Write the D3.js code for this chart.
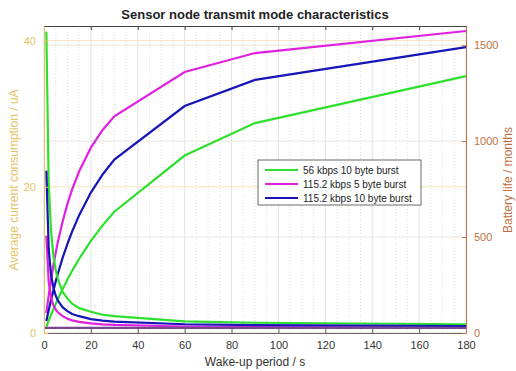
<!DOCTYPE html>
<html><head><meta charset="utf-8">
<script src="https://cdn.jsdelivr.net/npm/d3@7"></script>
<style>body{margin:0;background:#fff}svg{display:block}text{font-family:"Liberation Sans",Arial,sans-serif}</style>
</head><body><svg id="c" width="516" height="371"></svg>
<script>
const wakeup = [1,2,3,4,5,6,8,10,12,15,20,25,30,60,90,180];
const seriesNames = ["56 kbps 10 byte burst","115.2 kbps 5 byte burst","115.2 kbps 10 byte burst"];
const seriesColors = ["#2ee02e","#e020e0","#1515b8"];
const current56_10 = [41.2,20.5,14.0,10.6,8.6,7.3,5.6,4.7,4.0,3.4,2.9,2.5,2.3,1.6,1.4,1.2];
const current115_5 = [13.3,7.0,4.9,3.8,3.2,2.8,2.3,1.95,1.73,1.52,1.31,1.18,1.1,0.89,0.82,0.75];
const current115_10 = [22.2,11.5,8.0,6.2,5.1,4.4,3.5,3.0,2.6,2.3,1.9,1.7,1.55,1.2,1.08,0.96];
const battery56_10 = [33,64,94,123,152,179,230,279,324,387,480,561,632,925,1094,1339];
const battery115_5 = [104,196,279,352,419,479,584,673,748,843,966,1058,1129,1360,1459,1574];
const battery115_10 = [62,119,172,222,269,313,394,465,529,614,732,826,904,1183,1319,1490];
const sleepX = [0,180];
const sleepCurrent = [0.7,0.7];
const xTicks = [0,20,40,60,80,100,120,140,160,180];
const leftTicks = [0,20,40];
const rightTicks = [0,500,1000,1500];

const svg = d3.select("#c");
const L=44,R=466,T=26,B=333;
const x = d3.scaleLinear().domain([0,180]).range([L,R]);
const yL = d3.scaleLinear().domain([0,42]).range([B,T]);
const yR = d3.scaleLinear().domain([0,1600]).range([B,T]);
const leftCol="#e8c163", rightCol="#c07040";

// minor vertical grid
const g = svg.append("g");
d3.range(0,181,5).filter(v=>v%20!==0).forEach(v=>{
  g.append("line").attr("x1",x(v)).attr("x2",x(v)).attr("y1",T).attr("y2",B)
   .attr("stroke","#d4d4d4").attr("stroke-width",0.8).attr("stroke-dasharray","1,2");
});
xTicks.forEach(v=>{
  g.append("line").attr("x1",x(v)).attr("x2",x(v)).attr("y1",T).attr("y2",B)
   .attr("stroke","#e2e2e2").attr("stroke-width",1);
});
leftTicks.forEach(v=>{
  g.append("line").attr("x1",L).attr("x2",R).attr("y1",yL(v)).attr("y2",yL(v))
   .attr("stroke","#f4e6c0").attr("stroke-width",1);
});
rightTicks.forEach(v=>{
  g.append("line").attr("x1",L).attr("x2",R).attr("y1",yR(v)).attr("y2",yR(v))
   .attr("stroke","#ece4dc").attr("stroke-width",1);
});

// series
const lineL = d3.line().x((d,i)=>x(wakeup[i])).y(d=>yL(d));
const lineR = d3.line().x((d,i)=>x(wakeup[i])).y(d=>yR(d));
const curr=[current56_10,current115_5,current115_10];
const batt=[battery56_10,battery115_5,battery115_10];
batt.forEach((s,i)=>svg.append("path").attr("d",lineR(s)).attr("fill","none").attr("stroke",seriesColors[i]).attr("stroke-width",2.2));
curr.forEach((s,i)=>svg.append("path").attr("d",lineL(s)).attr("fill","none").attr("stroke",seriesColors[i]).attr("stroke-width",2.2));
svg.append("path").attr("d",d3.line().x((d,i)=>x(sleepX[i])).y(d=>yL(d))(sleepCurrent))
  .attr("fill","none").attr("stroke","#7a4690").attr("stroke-width",2.2);

// axes
const ax = svg.append("g").attr("transform",`translate(0,${B})`)
  .call(d3.axisBottom(x).tickValues(xTicks).tickSizeInner(-4).tickSizeOuter(0).tickPadding(8));
ax.select(".domain").attr("stroke","#666");
ax.selectAll(".tick line").attr("stroke","#666");
ax.selectAll("text").attr("fill","#333").attr("font-size",11);
const axT = svg.append("g").attr("transform",`translate(0,${T})`)
  .call(d3.axisTop(x).tickValues(xTicks).tickSizeInner(-4).tickSizeOuter(0).tickFormat(""));
axT.select(".domain").attr("stroke","#444");
axT.selectAll(".tick line").attr("stroke","#444");
const aL = svg.append("g").attr("transform",`translate(${L},0)`)
  .call(d3.axisLeft(yL).tickValues(leftTicks).tickSizeInner(-4).tickSizeOuter(0).tickPadding(8));
aL.select(".domain").attr("stroke",leftCol);
aL.selectAll(".tick line").attr("stroke",leftCol);
aL.selectAll("text").attr("fill",leftCol).attr("font-size",11);
const aR = svg.append("g").attr("transform",`translate(${R},0)`)
  .call(d3.axisRight(yR).tickValues(rightTicks).tickFormat(d3.format("d")).tickSizeInner(-4).tickSizeOuter(0).tickPadding(8));
aR.select(".domain").attr("stroke",rightCol);
aR.selectAll(".tick line").attr("stroke",rightCol);
aR.selectAll("text").attr("fill",rightCol).attr("font-size",11);

// titles
svg.append("text").attr("x",255).attr("y",19).attr("text-anchor","middle")
  .attr("font-size",13).attr("font-weight","bold").attr("fill","#222").text("Sensor node transmit mode characteristics");
svg.append("text").attr("x",255).attr("y",366).attr("text-anchor","middle")
  .attr("font-size",12).attr("fill","#333").text("Wake-up period / s");
svg.append("text").attr("transform","translate(18,180) rotate(-90)").attr("text-anchor","middle")
  .attr("font-size",12).attr("fill",leftCol).text("Average current consumption / uA");
svg.append("text").attr("transform","translate(512,180) rotate(-90)").attr("text-anchor","middle")
  .attr("font-size",12).attr("fill",rightCol).text("Battery life / months");

// legend
const lg = svg.append("g").attr("transform","translate(258,160)");
lg.append("rect").attr("width",163).attr("height",45).attr("fill","#fff").attr("stroke","#444").attr("stroke-width",0.8);
seriesNames.forEach((n,i)=>{
  const yy=10+i*14;
  lg.append("line").attr("x1",7).attr("x2",40).attr("y1",yy).attr("y2",yy).attr("stroke",seriesColors[i]).attr("stroke-width",2.2);
  lg.append("text").attr("x",45).attr("y",yy+3.5).attr("font-size",10).attr("fill","#222").text(n);
});
</script></body></html>
